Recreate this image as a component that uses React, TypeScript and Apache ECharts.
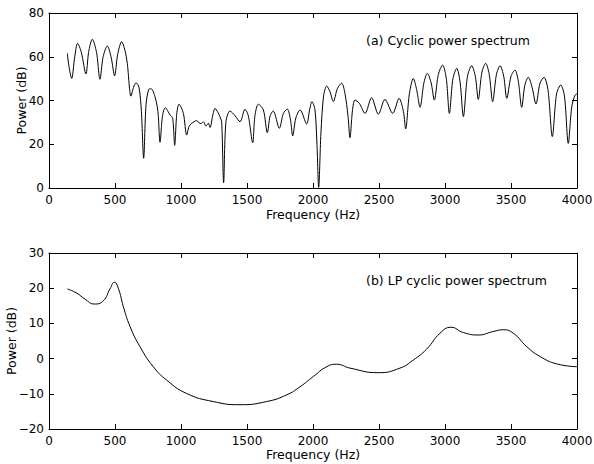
import React, { useEffect, useRef } from "react";
import * as echarts from "echarts";

// (a) Cyclic power spectrum
const freqA = [
  139, 150, 172, 195, 217, 245, 280, 300, 328, 360, 386, 410, 442, 470, 497, 520, 551, 575, 593, 621,
  640, 659, 682, 700, 717, 735, 755, 773, 803, 825, 841, 860, 881, 917, 937, 952, 968, 985, 1018, 1043,
  1060, 1081, 1119, 1145, 1157, 1169, 1189, 1207, 1220, 1240, 1258, 1280, 1295, 1308, 1323, 1340, 1371, 1410, 1447, 1485,
  1510, 1543, 1560, 1586, 1624, 1654, 1675, 1699, 1745, 1775, 1805, 1830, 1846, 1870, 1902, 1952, 1975, 1992, 2015, 2030,
  2043, 2060, 2080, 2104, 2129, 2154, 2185, 2217, 2242, 2265, 2280, 2300, 2318, 2351, 2394, 2444, 2495, 2545, 2604, 2652,
  2685, 2702, 2730, 2760, 2785, 2811, 2840, 2866, 2895, 2919, 2950, 2982, 3010, 3033, 3060, 3089, 3115, 3139, 3170, 3202,
  3230, 3252, 3280, 3308, 3335, 3361, 3390, 3417, 3445, 3468, 3500, 3530, 3555, 3581, 3605, 3631, 3660, 3689, 3720, 3750,
  3780, 3813, 3845, 3877, 3905, 3934, 3960, 3985, 4000,
];
const powerA = [
  61.6, 56, 50.1, 60, 66.1, 62, 52.1, 62, 68, 62, 49.7, 60, 64.9, 60, 51.3, 61, 66.9, 63, 57, 42,
  46, 48.1, 46, 35, 13.6, 38, 45, 45.4, 41.7, 35, 20.9, 33, 36.7, 33.4, 31.9, 19.5, 34, 38.3, 34.1, 24.2,
  28, 29.6, 30.8, 29.5, 29.6, 30.3, 28.3, 29.6, 27.7, 33, 36.4, 34.5, 32.6, 30.3, 2.4, 30, 35.2, 33, 30.3, 36,
  33, 20.7, 33, 38.3, 35.7, 25.3, 33, 35.2, 27.3, 34, 36.1, 31, 23.8, 32, 35.7, 29.3, 36, 39.5, 35.7, 20,
  0.3, 25, 42, 46.6, 44, 39.5, 45.5, 47.9, 43.3, 33, 23, 36, 40.2, 38.7, 34.1, 41.3, 33.7, 40.5, 34.1, 41,
  35, 27, 43, 50.1, 45, 36.9, 48, 52.4, 48, 40.2, 52, 56.2, 50, 34.1, 50, 54.7, 48, 32.6, 51, 55.9,
  51, 40.5, 53, 57, 52, 39.5, 52, 55.9, 51, 41, 51, 53.9, 49, 36.9, 47, 50.6, 46, 38.4, 48, 50.6,
  45, 23.5, 43, 47.1, 42, 20.4, 37, 42.5, 43,
];

// (b) LP cyclic power spectrum
const freqB = [
  139, 210, 273, 343, 411, 462, 495, 525, 563, 614, 689, 790, 891, 1042, 1244, 1447, 1649, 1801, 1902, 2002,
  2104, 2179, 2280, 2495, 2659, 2760, 2861, 2962, 3045, 3139, 3252, 3366, 3442, 3518, 3619, 3720, 3846, 4000,
];
const powerB = [
  19.8, 18.6, 16.9, 15.5, 16.4, 19.8, 21.7, 20, 14.8, 9.1, 3.4, -2.3, -6.1, -9.9, -12.2, -13.1, -12.2, -10.3, -8, -5.1,
  -2.3, -1.6, -2.7, -4, -2.7, -0.4, 2.7, 7.2, 8.9, 7.4, 6.7, 7.7, 8.2, 7.2, 3.4, 0.6, -1.5, -2.3,
];

const titleA = "(a) Cyclic power spectrum";
const titleB = "(b) LP cyclic power spectrum";
const xName = "Frequency (Hz)";
const yName = "Power (dB)";

const FONT = "DejaVu Sans";

const axisLine = { show: true, onZero: false, lineStyle: { color: "#000", width: 1 } };
const axisTick = { show: true, inside: true, length: 5, lineStyle: { color: "#000", width: 1 } };
const fmt = (v: number) => String(v).replace("-", "\u2212");

function xAxes(gridIndex: number, gap: number) {
  return [
    {
      gridIndex,
      type: "value",
      min: 0,
      max: 4000,
      interval: 500,
      position: "bottom",
      axisLine,
      axisTick,
      splitLine: { show: false },
      axisLabel: { color: "#000", fontSize: 12, fontFamily: FONT, margin: 6, formatter: fmt },
      name: xName,
      nameLocation: "middle",
      nameGap: gap,
      nameTextStyle: { color: "#000", fontSize: 12.5, fontFamily: FONT },
    },
    {
      gridIndex,
      type: "value",
      min: 0,
      max: 4000,
      interval: 500,
      position: "top",
      axisLine,
      axisTick,
      splitLine: { show: false },
      axisLabel: { show: false },
    },
  ];
}

function yAxes(gridIndex: number, min: number, max: number, interval: number, gap: number) {
  return [
    {
      gridIndex,
      type: "value",
      min,
      max,
      interval,
      position: "left",
      axisLine,
      axisTick,
      splitLine: { show: false },
      axisLabel: { color: "#000", fontSize: 12, fontFamily: FONT, margin: 5, formatter: fmt },
      name: yName,
      nameLocation: "middle",
      nameGap: gap,
      nameMoveOverlap: false,
      nameTextStyle: { color: "#000", fontSize: 12.5, fontFamily: FONT },
    },
    {
      gridIndex,
      type: "value",
      min,
      max,
      interval,
      position: "right",
      axisLine,
      axisTick,
      splitLine: { show: false },
      axisLabel: { show: false },
    },
  ];
}

export default function App() {
  const ref = useRef<HTMLDivElement>(null);
  useEffect(() => {
    if (!ref.current) return;
    const chart = echarts.init(ref.current, undefined, { renderer: "svg" });
    chart.setOption({
      animation: false,
      backgroundColor: "#fff",
      grid: [
        { left: 49, top: 13, width: 528, height: 175, containLabel: false, outerBoundsMode: "none" },
        { left: 49, top: 253, width: 528, height: 176, containLabel: false, outerBoundsMode: "none" },
      ],
      xAxis: [...xAxes(0, 20), ...xAxes(1, 17)],
      yAxis: [...yAxes(0, 0, 80, 20, 21), ...yAxes(1, -20, 30, 10, 31)],
      series: [
        {
          type: "line",
          xAxisIndex: 0,
          yAxisIndex: 0,
          data: freqA.map((f, i) => [f, powerA[i]]),
          showSymbol: false,
          smooth: 0.3,
          lineStyle: { color: "#000", width: 1 },
        },
        {
          type: "line",
          xAxisIndex: 2,
          yAxisIndex: 2,
          data: freqB.map((f, i) => [f, powerB[i]]),
          showSymbol: false,
          smooth: 0.5,
          lineStyle: { color: "#000", width: 1 },
        },
      ],
      graphic: [
        {
          type: "text",
          left: 366,
          top: 34,
          style: { text: titleA, font: `12.5px "${FONT}"`, fill: "#000" },
        },
        {
          type: "text",
          left: 366,
          top: 274,
          style: { text: titleB, font: `12.5px "${FONT}"`, fill: "#000" },
        },
      ],
    });
    return () => chart.dispose();
  }, []);
  return (
    <div
      ref={ref}
      style={{ position: "fixed", left: 0, top: 0, width: 594, height: 464, background: "#fff" }}
    />
  );
}
